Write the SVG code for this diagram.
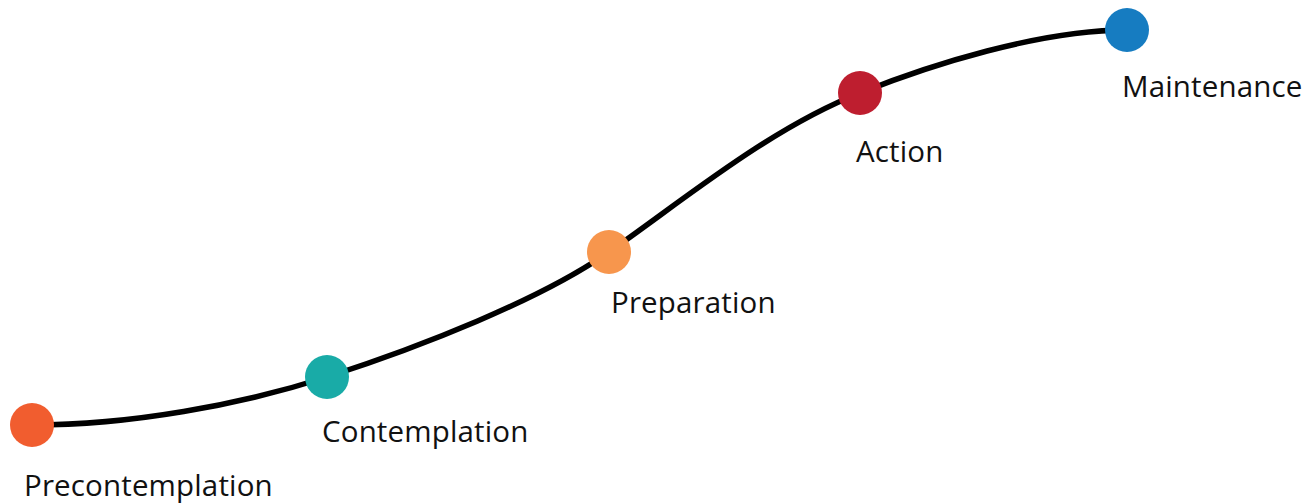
<svg xmlns="http://www.w3.org/2000/svg" width="1315" height="503" viewBox="0 0 1315 503">
<style>
.lbl{font-family:"Open Sans","Noto Sans","Liberation Sans",sans-serif;font-size:29.5px;letter-spacing:0.15px;fill:#111}
.curve{fill:none;stroke:#000;stroke-width:5.5;stroke-linecap:round}
</style>
<rect width="1315" height="503" fill="#fff"/>
<g id="connectors">
<path class="curve" d="M32,425 C130,425 240,405 327,377 C420,347 540,300 609,252 C681,202 770,128 860,93 C930,65 1040,30 1127,30"/>
</g>
<g id="precontemplation"><circle cx="32" cy="425" r="22" fill="#F15D2F"/><text class="lbl" x="24" y="496">Precontemplation</text></g>
<g id="contemplation"><circle cx="327" cy="377" r="22" fill="#19ABA7"/><text class="lbl" x="322" y="442">Contemplation</text></g>
<g id="preparation"><circle cx="609" cy="252" r="22" fill="#F7964D"/><text class="lbl" x="611" y="313">Preparation</text></g>
<g id="action"><circle cx="860" cy="93" r="22" fill="#BE1E2F"/><text class="lbl" x="856" y="162">Action</text></g>
<g id="maintenance"><circle cx="1127" cy="30" r="22" fill="#167CC1"/><text class="lbl" x="1122" y="97">Maintenance</text></g>
</svg>
